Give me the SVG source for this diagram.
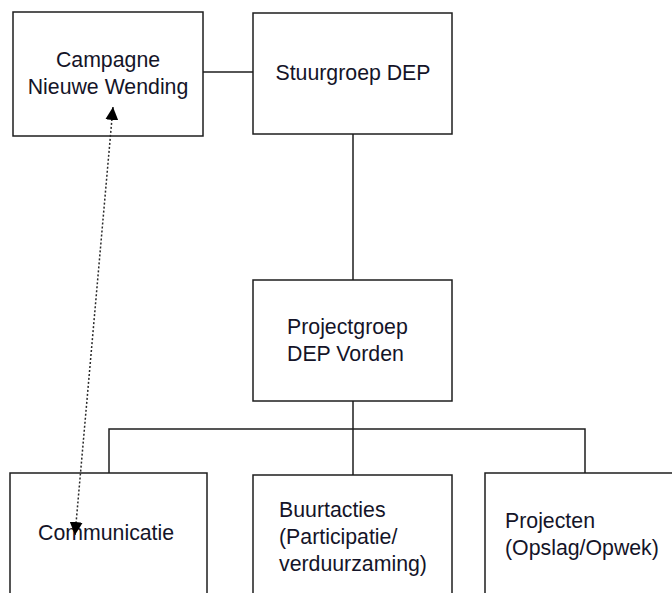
<svg xmlns="http://www.w3.org/2000/svg" width="672" height="593" viewBox="0 0 672 593">
  <style>
    .box { fill: #ffffff; stroke: #1e1e1e; stroke-width: 1.5; }
    .lbl { font-family: "Liberation Sans", Arial, sans-serif; font-size: 21.3px; fill: #141428; }
    .conn { fill: none; stroke: #1e1e1e; stroke-width: 1.5; }
    .dot { fill: none; stroke: #2a2a2a; stroke-width: 1.5; stroke-dasharray: 2 2; }
  </style>
  <defs>
    <marker id="ah" viewBox="0 0 10 10" refX="10" refY="5" markerWidth="13" markerHeight="13" markerUnits="userSpaceOnUse" orient="auto-start-reverse">
      <path d="M0,0 L10,5 L0,10 z" fill="#000"/>
    </marker>
  </defs>
  <rect width="672" height="593" fill="#ffffff"/>

  <g id="connectors">
    <line class="conn" x1="203" y1="72" x2="253" y2="72"/>
    <line class="conn" x1="353" y1="134" x2="353" y2="280"/>
    <line class="conn" x1="353" y1="401" x2="353" y2="429"/>
    <polyline class="conn" points="109,473 109,429 585,429 585,473"/>
    <line class="conn" x1="353" y1="429" x2="353" y2="475"/>
  </g>

  <g id="campagne">
    <rect class="box" x="13" y="12" width="190" height="124"/>
    <text class="lbl" x="108" y="67" text-anchor="middle">Campagne</text>
    <text class="lbl" x="108" y="94" text-anchor="middle">Nieuwe Wending</text>
  </g>

  <g id="stuurgroep">
    <rect class="box" x="253" y="13" width="199" height="121"/>
    <text class="lbl" x="353" y="80" text-anchor="middle">Stuurgroep DEP</text>
  </g>

  <g id="projectgroep">
    <rect class="box" x="253" y="280" width="199" height="121"/>
    <text class="lbl" x="287" y="334">Projectgroep</text>
    <text class="lbl" x="287" y="361">DEP Vorden</text>
  </g>

  <g id="communicatie">
    <rect class="box" x="10" y="473" width="197" height="140"/>
    <text class="lbl" x="38" y="540">Communicatie</text>
  </g>

  <g id="buurtacties">
    <rect class="box" x="253" y="475" width="199" height="140"/>
    <text class="lbl" x="279" y="517">Buurtacties</text>
    <text class="lbl" x="279" y="544">(Participatie/</text>
    <text class="lbl" x="279" y="571">verduurzaming)</text>
  </g>

  <g id="projecten">
    <rect class="box" x="485" y="473" width="200" height="140"/>
    <text class="lbl" x="505" y="528">Projecten</text>
    <text class="lbl" x="505" y="555">(Opslag/Opwek)</text>
  </g>

  <g id="dotted-link">
    <path class="dot" d="M113,107 L75,535" marker-start="url(#ah)" marker-end="url(#ah)"/>
  </g>
</svg>
